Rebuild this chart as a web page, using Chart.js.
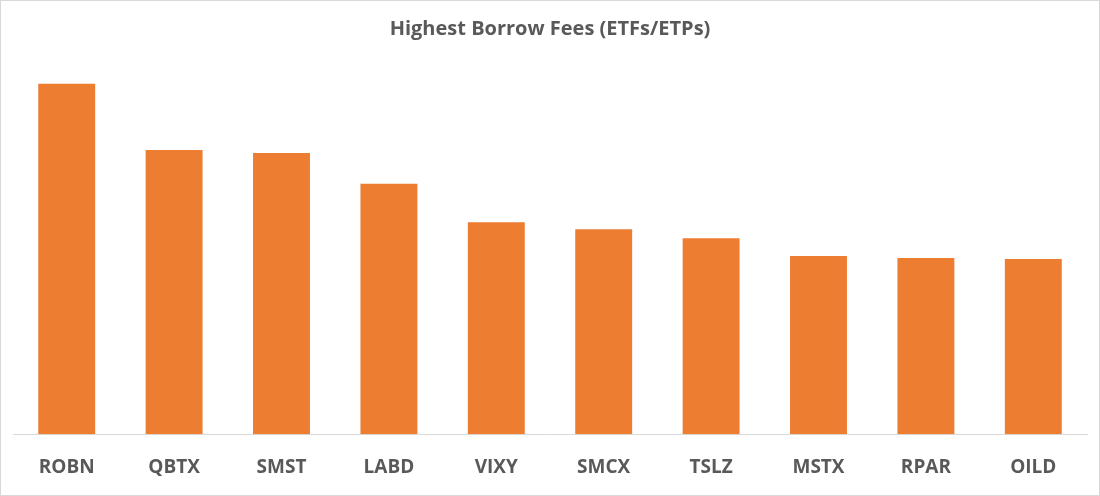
<!DOCTYPE html>
<html>
<head>
<script src="https://cdn.jsdelivr.net/npm/chart.js@4"></script>
<style>
  body { margin: 0; background: #fff; }
  #wrap { position: absolute; left: 0; top: 0; width: 1098px; height: 494px; border: 1px solid #d9d9d9; }
</style>
</head>
<body>
<div id="wrap"><canvas id="c"></canvas></div>
<script>
const tickers = ['ROBN', 'QBTX', 'SMST', 'LABD', 'VIXY', 'SMCX', 'TSLZ', 'MSTX', 'RPAR', 'OILD'];
// relative heights (no axis values shown)
const fees = [354, 287, 284, 253, 214, 207, 198, 180, 178, 177];

new Chart(document.getElementById('c'), {
    type: 'bar',
    data: {
        labels: tickers,
        datasets: [{
            data: fees,
            backgroundColor: '#ed7d31',
            categoryPercentage: 1,
            barPercentage: 0.53
        }]
    },
    options: {
        responsive: true,
        maintainAspectRatio: false,
        animation: false,
        layout: { padding: { left: 12, right: 12, top: 0, bottom: -6 } },
        plugins: {
            legend: { display: false },
            tooltip: { enabled: false },
            title: {
                display: true,
                text: 'Highest Borrow Fees (ETFs/ETPs)',
                color: '#595959',
                font: { family: 'Open Sans', size: 20, weight: 'bold' },
                padding: { top: 16, bottom: 18 }
            }
        },
        scales: {
            x: {
                grid: { display: false, drawTicks: false },
                border: { color: '#d9d9d9', width: 1 },
                ticks: {
                    color: '#595959',
                    padding: 22,
                    font: { family: 'Open Sans', size: 19, weight: 'bold' }
                }
            },
            y: {
                display: false,
                min: 0,
                max: 379
            }
        }
    }
});
</script>
</body>
</html>
